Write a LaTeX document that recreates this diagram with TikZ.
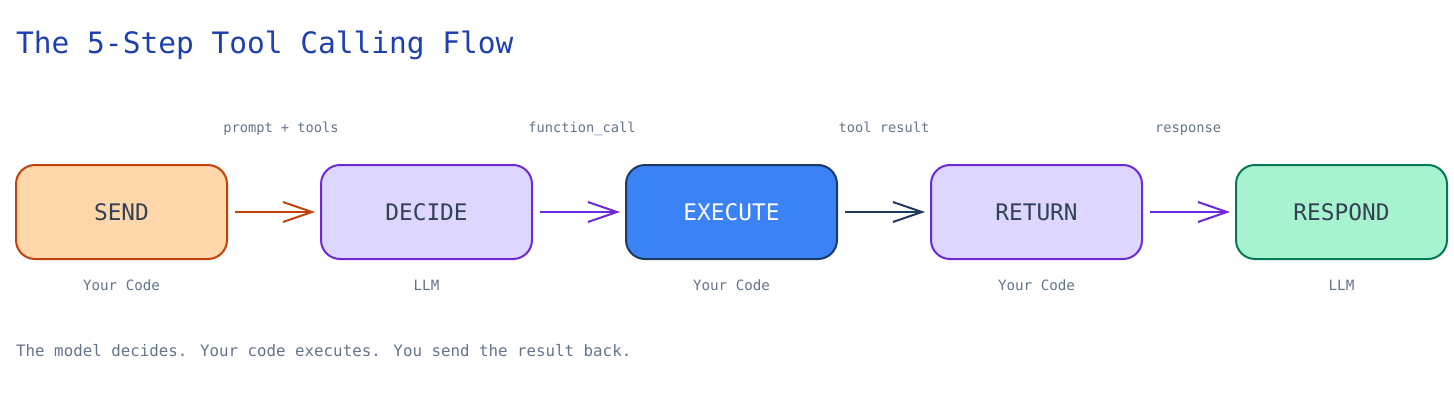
\documentclass[tikz,border=0pt]{standalone}
\usepackage{fontspec}
\setmainfont{DejaVu Sans Mono}
\setmonofont{DejaVu Sans Mono}
\usetikzlibrary{arrows.meta}
\definecolor{titleblue}{HTML}{1E40AF}
\definecolor{txt}{HTML}{334155}
\definecolor{lab}{HTML}{64748B}
\definecolor{sendfill}{HTML}{FED7AA}
\definecolor{sendline}{HTML}{C2410C}
\definecolor{llmfill}{HTML}{DDD6FE}
\definecolor{llmline}{HTML}{6D28D9}
\definecolor{exefill}{HTML}{3B82F6}
\definecolor{exeline}{HTML}{1E3A5F}
\definecolor{respfill}{HTML}{A7F3D0}
\definecolor{respline}{HTML}{047857}
\tikzset{
  stepbox/.style={rounded corners=19pt, line width=2pt, minimum width=211pt, minimum height=94pt, inner sep=0pt, font=\fontsize{22.8}{26}\selectfont, text=txt},
  flow/.style={line width=2pt, -{Straight Barb[length=29pt,width=20pt,line width=2pt]}},
  lbl/.style={font=\fontsize{13.7}{16}\selectfont, text=lab, inner sep=0pt, anchor=base},
  sub/.style={font=\fontsize{14.2}{16}\selectfont, text=lab, inner sep=0pt, anchor=base},
}
\begin{document}
\begin{tikzpicture}[x=1pt,y=-1pt]
\useasboundingbox (0,0) rectangle (1454,402);
\node[anchor=base west, inner sep=0pt, text=titleblue, font=\fontsize{29.5}{34}\selectfont] (title) at (16,53) {The 5-Step Tool Calling Flow};

\node[stepbox, fill=sendfill, draw=sendline] (send) at (121.5,212) {SEND};
\node[stepbox, fill=llmfill, draw=llmline] (decide) at (426.5,212) {DECIDE};
\node[stepbox, fill=exefill, draw=exeline, text=white] (execute) at (731.5,212) {EXECUTE};
\node[stepbox, fill=llmfill, draw=llmline] (return) at (1036.5,212) {RETURN};
\node[stepbox, fill=respfill, draw=respline] (respond) at (1341.5,212) {RESPOND};

\draw[flow, draw=sendline] ([xshift=7pt]send.east) -- ([xshift=-5pt]decide.west);
\draw[flow, draw=llmline] ([xshift=7pt]decide.east) -- ([xshift=-5pt]execute.west);
\draw[flow, draw=exeline] ([xshift=7pt]execute.east) -- ([xshift=-5pt]return.west);
\draw[flow, draw=llmline] ([xshift=7pt]return.east) -- ([xshift=-5pt]respond.west);

\node[lbl] (l1) at (281,132) {prompt + tools};
\node[lbl] (l2) at (582,132) {function\_call};
\node[lbl] (l3) at (884,132) {tool result};
\node[lbl] (l4) at (1188,132) {response};

\node[sub] (s1) at (121.5,290.5) {Your Code};
\node[sub] (s2) at (426.5,290.5) {LLM};
\node[sub] (s3) at (731.5,290.5) {Your Code};
\node[sub] (s4) at (1036.5,290.5) {Your Code};
\node[sub] (s5) at (1341.5,290.5) {LLM};

\node[anchor=base west, inner sep=0pt, text=lab, font=\fontsize{15.8}{19}\selectfont] (foot) at (16,356.5) {The model decides. Your code executes. You send the result back.};
\end{tikzpicture}
\end{document}
